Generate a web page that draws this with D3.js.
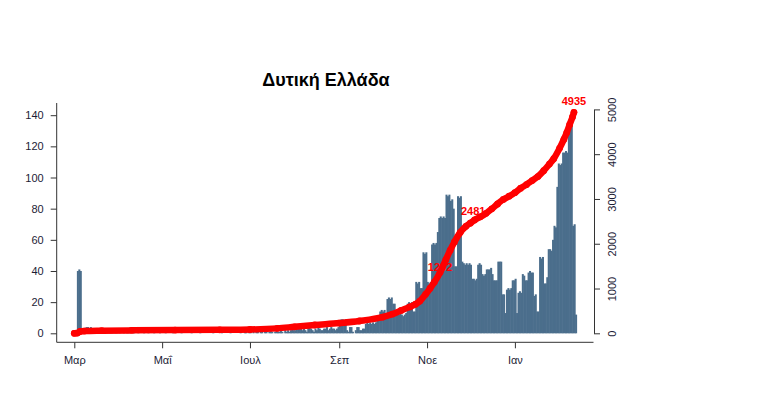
<!DOCTYPE html>
<html>
<head>
<meta charset="utf-8">
<script src="https://cdn.jsdelivr.net/npm/d3@7"></script>
<style>
  html, body { margin: 0; padding: 0; background: #fff; }
  svg { display: block; }
</style>
</head>
<body>
<svg id="chart" width="771" height="399"></svg>
<script>
// ---------------- DATA ----------------
const title = "Δυτική Ελλάδα";
const firstDay = "2020-03-01";

// daily new cases (bars), one value per day, by month
const casesMar = [0,0,40,41,40,2,1,3,4,4,3,4,2,1,2,1,0,2,1,2,2,1,1,0,1,2,1,0,1,1,0];
const casesApr = [1,0,0,1,0,1,2,1,0,0,1,0,0,1,0,0,0,1,0,0,1,0,0,0,1,0,0,0,1,0];
const casesMay = [0,0,1,0,0,0,0,1,0,0,0,0,0,1,0,0,0,0,0,0,1,0,0,0,0,0,1,0,0,0,0];
const casesJun = [0,0,0,0,1,0,0,0,0,0,1,0,0,0,0,0,1,0,0,0,0,0,0,1,0,0,2,1,0,1];
const casesJul = [1,0,1,0,2,1,0,1,1,0,2,1,0,1,2,1,0,1,2,1,1,2,1,0,2,1,2,1,2,3,2];
const casesAug = [2,5,6,6,4,2,3,2,1,5,5,3,2,1,3,2,4,3,2,2,3,3,4,2,3,4,3,3,2,3,4];
const casesSep = [8,9,9,8,9,2,1,4,4,1,0,2,4,4,2,2,3,3,6,7,6,7,6,7,6,7,9,9,14,15];
const casesOct = [14,15,10,22,23,22,23,19,19,12,12,12,13,12,11,12,13,19,20,19,20,14,14,33,32,33,29,29,52,51,52];
const casesNov = [33,32,33,57,58,57,58,65,74,75,74,75,74,89,88,89,85,86,80,43,43,88,87,88,46,45,44,45,44,45];
const casesDec = [44,35,35,34,35,44,45,44,38,37,38,41,41,41,42,38,34,34,34,46,46,46,25,25,13,28,29,28,29,34,34];
const casesJan = [35,13,26,27,26,38,37,34,34,39,40,39,39,24,25,14,14,49,48,49,32,32,36,54,54,53,60,69,68,94,109];
const casesFeb = [108,109,116,116,117,116,136,136,137,69,70,12];

// cumulative cases (red line)
const cumDates = ["2020-03-01","2020-03-03","2020-03-05","2020-03-08","2020-03-20","2020-04-10","2020-05-10","2020-06-10",
  "2020-07-01","2020-07-20","2020-08-01","2020-08-15","2020-09-01","2020-09-15","2020-10-01","2020-10-08","2020-10-14",
  "2020-10-20","2020-10-24","2020-10-27","2020-10-31","2020-11-03","2020-11-06","2020-11-10","2020-11-14","2020-11-17",
  "2020-11-20","2020-11-24","2020-11-28","2020-12-01","2020-12-04","2020-12-08","2020-12-12","2020-12-16","2020-12-20",
  "2020-12-24","2020-12-28","2021-01-01","2021-01-05","2021-01-09","2021-01-13","2021-01-17","2021-01-21","2021-01-25",
  "2021-01-28","2021-02-01","2021-02-04","2021-02-06","2021-02-08","2021-02-10","2021-02-11"];
const cumValues = [0,5,40,50,58,66,72,78,
  85,110,145,185,228,275,360,430,510,
  590,650,720,870,1000,1140,1360,1640,1850,
  2040,2250,2390,2460,2530,2600,2680,2780,2890,
  2990,3060,3140,3240,3320,3410,3500,3630,3780,
  3900,4130,4330,4480,4660,4830,4935];

// annotated cumulative values
const labelDates = ["2020-11-10","2020-12-03","2021-02-11"];
const labelValues = [1232, 2481, 4935];

// axis ticks
const monthTickDates = ["2020-03-01","2020-05-01","2020-07-01","2020-09-01","2020-11-01","2021-01-01"];
const monthTickLabels = ["Μαρ","Μαΐ","Ιουλ","Σεπ","Νοε","Ιαν"];
const leftTicks = [0,20,40,60,80,100,120,140];
const rightTicks = [0,1000,2000,3000,4000,5000];

// ---------------- CHART ----------------
const parse = d3.utcParse("%Y-%m-%d");
const daily = [].concat(casesMar, casesApr, casesMay, casesJun, casesJul, casesAug,
                        casesSep, casesOct, casesNov, casesDec, casesJan, casesFeb);
const start = parse(firstDay);
const bars = daily.map((v, i) => ({ date: d3.utcDay.offset(start, i), value: v }));
const cum = cumDates.map((d, i) => ({ date: parse(d), value: cumValues[i] }));

const svg = d3.select("#chart");
const FONT = "'Liberation Sans', Arial, sans-serif";
const TXT = "#1c1c36";

const plot = { left: 56.7, right: 593.5, top: 103, bottom: 342.3 };

const x = d3.scaleUtc()
  .domain([parse("2020-03-01"), parse("2021-01-01")])
  .range([74.3, 514.9]);
const yL = d3.scaleLinear().domain([0, 140]).range([333.3, 115.2]);
const yR = d3.scaleLinear().domain([0, 5000]).range([333.3, 109.4]);

svg.append("rect").attr("width", 771).attr("height", 399).attr("fill", "#fff");

// bars
svg.append("g").selectAll("rect").data(bars).join("rect")
  .attr("x", d => x(d.date) - 0.3)
  .attr("width", d => x(d3.utcDay.offset(d.date, 1)) - x(d.date) + 0.6)
  .attr("y", d => yL(d.value))
  .attr("height", d => yL(0) - yL(d.value))
  .attr("fill", "#4b6e8c");

// cumulative line
const line = d3.line().x(d => x(d.date)).y(d => yR(d.value)).curve(d3.curveMonotoneX);
svg.append("path").datum(cum)
  .attr("d", line)
  .attr("fill", "none")
  .attr("stroke", "#ff0000")
  .attr("stroke-width", 6.5)
  .attr("stroke-linecap", "round")
  .attr("stroke-linejoin", "round");
svg.append("g").selectAll("circle").data(cum).join("circle")
  .attr("cx", d => x(d.date)).attr("cy", d => yR(d.value)).attr("r", 3.4)
  .attr("fill", "#ff0000");

// labels
svg.append("g").selectAll("text").data(labelDates).join("text")
  .attr("x", d => x(parse(d)))
  .attr("y", (d, i) => yR(labelValues[i]) - 7)
  .attr("text-anchor", "middle")
  .attr("font-family", FONT).attr("font-weight", "bold").attr("font-size", 11)
  .attr("fill", "#ff0000")
  .text((d, i) => labelValues[i]);

// L-shaped frame
svg.append("path")
  .attr("d", `M${plot.left},${plot.top}V${plot.bottom}H${plot.right}`)
  .attr("fill", "none").attr("stroke", "#333").attr("stroke-width", 1);

function styleAxis(g) {
  g.selectAll("line").attr("stroke", "#333");
  g.selectAll("text").attr("font-family", FONT).attr("font-size", 11).attr("fill", TXT);
}

// left axis
const gL = svg.append("g").attr("transform", `translate(${plot.left},0)`)
  .call(d3.axisLeft(yL).tickValues(leftTicks).tickSize(6).tickPadding(7));
gL.select(".domain").remove();
styleAxis(gL);

// right axis
const gR = svg.append("g").attr("transform", `translate(594,0)`)
  .call(d3.axisRight(yR).tickValues(rightTicks).tickSize(6).tickSizeOuter(0).tickFormat(d3.format("d")));
gR.select(".domain").attr("stroke", "#333");
styleAxis(gR);
gR.selectAll(".tick text")
  .attr("x", null).attr("dy", null)
  .attr("transform", "translate(22,0) rotate(-90)")
  .attr("text-anchor", "middle");

// bottom axis
const gB = svg.append("g").attr("transform", `translate(0,${plot.bottom})`)
  .call(d3.axisBottom(x).tickValues(monthTickDates.map(parse))
    .tickFormat((d, i) => monthTickLabels[i]).tickSize(6).tickPadding(7.5));
gB.select(".domain").remove();
styleAxis(gB);

// title
svg.append("text")
  .attr("x", 326).attr("y", 86)
  .attr("text-anchor", "middle")
  .attr("font-family", FONT).attr("font-weight", "bold").attr("font-size", 18)
  .attr("fill", "#000")
  .text(title);
</script>
</body>
</html>
